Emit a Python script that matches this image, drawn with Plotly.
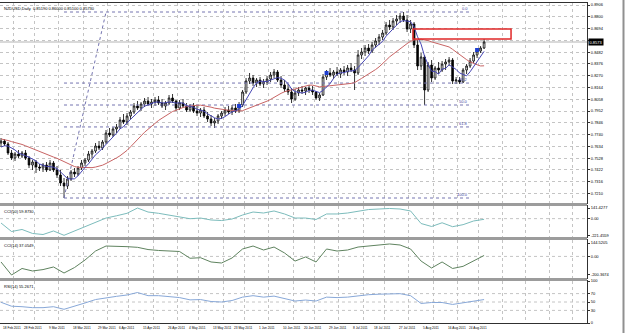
import plotly.graph_objects as go
import pandas as pd

symbol_title = "NZDUSD,Daily"

open_p = [0.7664,0.7682,0.7655,0.7574,0.7529,0.7565,0.7547,0.7574,0.7529,0.7466,
          0.7493,0.7448,0.7439,0.7466,0.7421,0.7484,0.7421,0.7376,0.7304,0.7277,
          0.7340,0.7403,0.7385,0.7439,0.7484,0.7511,0.7565,0.7592,0.7637,0.7619,
          0.7673,0.7754,0.7736,0.7790,0.7808,0.7871,0.7853,0.7907,0.7943,0.7997,
          0.7979,0.8015,0.8042,0.8015,0.8033,0.8051,0.8024,0.7997,0.8024,0.8069,
          0.8042,0.7979,0.8024,0.7997,0.7961,0.7997,0.7952,0.7934,0.7961,0.7907,
          0.7880,0.7844,0.7862,0.7907,0.7934,0.7961,0.7943,0.7979,0.7952,0.8006,
          0.8123,0.8222,0.8249,0.8204,0.8231,0.8195,0.8213,0.8240,0.8276,0.8303,
          0.8231,0.8186,0.8150,0.8123,0.8060,0.8114,0.8141,0.8132,0.8159,0.8141,
          0.8123,0.8069,0.8096,0.8258,0.8294,0.8276,0.8303,0.8285,0.8321,0.8303,
          0.8339,0.8321,0.8294,0.8456,0.8483,0.8519,0.8492,0.8546,0.8582,0.8618,
          0.8654,0.8726,0.8708,0.8762,0.8780,0.8807,0.8771,0.8690,0.8735,0.8546,
          0.8357,0.8438,0.8141,0.8366,0.8249,0.8339,0.8321,0.8375,0.8393,0.8411,
          0.8222,0.8231,0.8213,0.8321,0.8357,0.8402,0.8456,0.8492,0.8519]
high_p = [0.7709,0.7700,0.7673,0.7601,0.7583,0.7601,0.7592,0.7601,0.7547,0.7511,
          0.7511,0.7475,0.7484,0.7493,0.7511,0.7502,0.7457,0.7421,0.7349,0.7367,
          0.7421,0.7439,0.7457,0.7511,0.7529,0.7592,0.7610,0.7664,0.7682,0.7691,
          0.7781,0.7799,0.7808,0.7835,0.7898,0.7925,0.7934,0.7961,0.8024,0.8042,
          0.8033,0.8069,0.8078,0.8060,0.8078,0.8087,0.8060,0.8042,0.8096,0.8105,
          0.8051,0.8051,0.8060,0.8024,0.8015,0.8024,0.7997,0.7979,0.7988,0.7943,
          0.7916,0.7889,0.7925,0.7952,0.7988,0.7997,0.8006,0.8015,0.8033,0.8141,
          0.8249,0.8294,0.8276,0.8249,0.8258,0.8240,0.8267,0.8303,0.8330,0.8321,
          0.8267,0.8231,0.8195,0.8159,0.8150,0.8168,0.8177,0.8168,0.8186,0.8177,
          0.8132,0.8114,0.8285,0.8321,0.8339,0.8321,0.8348,0.8339,0.8357,0.8366,
          0.8384,0.8357,0.8501,0.8519,0.8546,0.8555,0.8573,0.8609,0.8645,0.8681,
          0.8753,0.8771,0.8789,0.8816,0.8834,0.8843,0.8816,0.8771,0.8753,0.8591,
          0.8474,0.8456,0.8393,0.8411,0.8357,0.8393,0.8402,0.8420,0.8438,0.8429,
          0.8258,0.8258,0.8339,0.8375,0.8429,0.8483,0.8510,0.8537,0.8600]
low_p = [0.7628,0.7637,0.7556,0.7511,0.7502,0.7529,0.7529,0.7511,0.7439,0.7421,
         0.7394,0.7412,0.7403,0.7403,0.7412,0.7403,0.7349,0.7277,0.7169,0.7250,
         0.7322,0.7358,0.7367,0.7421,0.7457,0.7493,0.7529,0.7574,0.7601,0.7601,
         0.7655,0.7718,0.7718,0.7754,0.7790,0.7835,0.7826,0.7880,0.7925,0.7961,
         0.7952,0.7988,0.7997,0.7979,0.7997,0.8006,0.7979,0.7961,0.8006,0.8024,
         0.7952,0.7961,0.7979,0.7943,0.7943,0.7934,0.7907,0.7898,0.7889,0.7853,
         0.7817,0.7799,0.7835,0.7880,0.7907,0.7925,0.7916,0.7934,0.7934,0.7988,
         0.8105,0.8195,0.8177,0.8168,0.8177,0.8159,0.8186,0.8213,0.8249,0.8213,
         0.8159,0.8123,0.8096,0.8024,0.8042,0.8087,0.8105,0.8096,0.8114,0.8096,
         0.8051,0.8042,0.8087,0.8231,0.8258,0.8240,0.8267,0.8249,0.8276,0.8267,
         0.8303,0.8141,0.8276,0.8420,0.8447,0.8465,0.8474,0.8519,0.8546,0.8591,
         0.8636,0.8681,0.8681,0.8726,0.8744,0.8753,0.8663,0.8654,0.8519,0.8321,
         0.8321,0.8006,0.8123,0.8213,0.8231,0.8285,0.8303,0.8321,0.8357,0.8195,
         0.8195,0.8195,0.8204,0.8285,0.8339,0.8384,0.8429,0.8474,0.8510]
close_p = [0.7682,0.7655,0.7574,0.7529,0.7565,0.7547,0.7574,0.7529,0.7466,0.7493,
           0.7448,0.7439,0.7466,0.7421,0.7484,0.7421,0.7376,0.7304,0.7277,0.7340,
           0.7403,0.7385,0.7439,0.7484,0.7511,0.7565,0.7592,0.7637,0.7619,0.7673,
           0.7754,0.7736,0.7790,0.7808,0.7871,0.7853,0.7907,0.7943,0.7997,0.7979,
           0.8015,0.8042,0.8015,0.8033,0.8051,0.8024,0.7997,0.8024,0.8069,0.8042,
           0.7979,0.8024,0.7997,0.7961,0.7997,0.7952,0.7934,0.7961,0.7907,0.7880,
           0.7844,0.7862,0.7907,0.7934,0.7961,0.7943,0.7979,0.7952,0.8006,0.8123,
           0.8222,0.8249,0.8204,0.8231,0.8195,0.8213,0.8240,0.8276,0.8303,0.8231,
           0.8186,0.8150,0.8123,0.8060,0.8114,0.8141,0.8132,0.8159,0.8141,0.8123,
           0.8069,0.8096,0.8258,0.8294,0.8276,0.8303,0.8285,0.8321,0.8303,0.8339,
           0.8321,0.8294,0.8456,0.8483,0.8519,0.8492,0.8546,0.8582,0.8618,0.8654,
           0.8726,0.8708,0.8762,0.8780,0.8807,0.8771,0.8690,0.8735,0.8546,0.8357,
           0.8438,0.8141,0.8366,0.8249,0.8339,0.8321,0.8375,0.8393,0.8411,0.8222,
           0.8231,0.8213,0.8321,0.8357,0.8402,0.8456,0.8492,0.8519,0.8573]
# closes of the bars just before the visible window (needed by the moving averages)
prev_close = [0.7745,0.7763,0.7727,0.7709,0.7736,0.7754,0.7772,0.7736,0.7718,0.7700,
              0.7727,0.7709,0.7691,0.7718,0.7664,0.7601,0.7583,0.7610,0.7664]

first_date = "2011-02-18"
date_labels = ["18 Feb 2011","28 Feb 2011","9 Mar 2011","18 Mar 2011","29 Mar 2011",
               "6 Apr 2011","15 Apr 2011","26 Apr 2011","4 May 2011","13 May 2011",
               "23 May 2011","1 Jun 2011","10 Jun 2011","20 Jun 2011","29 Jun 2011",
               "8 Jul 2011","18 Jul 2011","27 Jul 2011","5 Aug 2011","16 Aug 2011",
               "24 Aug 2011"]
price_ticks = [0.8906,0.8800,0.8694,0.8588,0.8482,0.8376,0.8270,0.8164,0.8058,
               0.7952,0.7846,0.7740,0.7634,0.7528,0.7422,0.7316,0.7210]

fib_levels = [0.0, 38.2, 50.0, 61.8, 100.0]
fib_high, fib_low = 0.8843, 0.7169
fib_start_bar, fib_end_bar, fib_high_bar = 18, 134, 30

zone_bottom, zone_top = 0.8600, 0.8690
zone_start_bar, zone_end_bar = 117.7, 145.7

signal_bars = [68, 93, 136]
signal_prices = [0.7997, 0.8294, 0.8501]

ind_bars = list(range(0, 139, 3))
cci50 = [-58,-171,-144,-197,-211,-164,-221.46,-164,-104,-45,8,38,71,141.43,88,71,48,22,-1,8,
         -18,-25,-5,48,88,75,102,62,8,8,-11,62,62,75,102,121,128,135,128,102,
         -65,-104,-55,-107,-80,-31,-9]
cci14 = [-60,-200.37,-130,-157,-142,-114,-179,-120,-39,58,112,112,105,98,74,64,61,53,-20,-14,
         -60,-71,-17,80,112,69,101,37,-50,-6,-60,80,58,69,101,112,123,134,123,80,
         -50,-125,-60,-130,-107,-44,10]
rsi14 = [49.3,40.0,38.8,36.5,36.5,38.8,32.6,39.5,47.7,55.8,60.5,63.5,66.7,72.6,65.1,65.1,62.8,60.5,55.1,55.8,
         51.2,50.0,53.5,61.6,65.1,61.6,64.0,58.1,52.3,54.7,52.3,61.6,60.5,61.6,65.1,67.4,68.6,69.8,69.8,65.1,
         46.5,48.8,48.8,44.2,47.7,51.9,55.8]

# ---------------------------------------------------------------- derived
n = len(close_p)
bars = list(range(n))
dates = pd.bdate_range(first_date, periods=n)
label_pos = [dates.get_loc(pd.to_datetime(s, format="%d %b %Y")) for s in date_labels]

full = pd.Series(prev_close + close_p)
ma_fast = full.rolling(5).mean().iloc[len(prev_close):].tolist()
ma_slow = full.rolling(20).mean().iloc[len(prev_close):].tolist()

# ---------------------------------------------------------------- layout helpers
W, H = 625, 333
ML, MR, MT, MB = 0, 38, 3, 10
PH = H - MT - MB

def ydom(top_px, bot_px):
    return [(H - MB - bot_px) / PH, (H - MB - top_px) / PH]

def ypap(px):
    return (H - MB - px) / PH

XR = [-0.29, 167.4]
grid_x = [p + 3.5 for p in label_pos]
while grid_x[-1] + 6.7 < XR[1]:
    grid_x.append(grid_x[-1] + 6.7)

FONT = "Liberation Sans"
GRID = "#c4c4c4"
FIBC = "#7474b0"

# the tick label hidden behind the current-price box is left blank
cur = close_p[-1]
price_ticktext = ["" if abs(v - cur) < 0.0030 else f"{v:.4f}" for v in price_ticks]

fig = go.Figure()

fig.add_trace(go.Candlestick(
    x=bars, open=open_p, high=high_p, low=low_p, close=close_p,
    increasing=dict(line=dict(color="black", width=0.8), fillcolor="white"),
    decreasing=dict(line=dict(color="black", width=0.8), fillcolor="black"),
    whiskerwidth=0, showlegend=False, hoverinfo="skip", xaxis="x", yaxis="y"))

# fibonacci
fib_prices = [fib_high - lv / 100.0 * (fib_high - fib_low) for lv in fib_levels]
for lv, fp in zip(fib_levels, fib_prices):
    fig.add_trace(go.Scatter(x=[fib_start_bar, fib_end_bar], y=[fp, fp], mode="lines",
                             line=dict(color=FIBC, width=1, dash="dot"),
                             showlegend=False, hoverinfo="skip"))
    fig.add_annotation(x=fib_end_bar, y=fp, xref="x", yref="y", text=f"{lv:.1f}",
                       showarrow=False, xanchor="right", yanchor="bottom",
                       font=dict(family=FONT, size=4, color="#4040a0"), yshift=-1)
fig.add_trace(go.Scatter(x=[fib_start_bar, fib_high_bar], y=[fib_low, fib_high], mode="lines",
                         line=dict(color=FIBC, width=1, dash="dot"),
                         showlegend=False, hoverinfo="skip"))

fig.add_trace(go.Scatter(x=bars, y=ma_slow, mode="lines", line=dict(color="#c86464", width=1),
                         showlegend=False, hoverinfo="skip"))
fig.add_trace(go.Scatter(x=bars, y=ma_fast, mode="lines", line=dict(color="#4646b4", width=1),
                         showlegend=False, hoverinfo="skip"))
fig.add_trace(go.Scatter(x=signal_bars, y=signal_prices, mode="markers",
                         marker=dict(symbol="square", size=4, color="#1f3fd0"),
                         showlegend=False, hoverinfo="skip"))

# indicators
fig.add_trace(go.Scatter(x=ind_bars, y=cci50, mode="lines", line=dict(color="#7cbcbc", width=1),
                         xaxis="x2", yaxis="y2", showlegend=False, hoverinfo="skip"))
fig.add_trace(go.Scatter(x=ind_bars, y=cci14, mode="lines", line=dict(color="#5f835f", width=1),
                         xaxis="x3", yaxis="y3", showlegend=False, hoverinfo="skip"))
fig.add_trace(go.Scatter(x=ind_bars, y=rsi14, mode="lines", line=dict(color="#88a8d8", width=1),
                         xaxis="x4", yaxis="y4", showlegend=False, hoverinfo="skip"))

xcommon = dict(range=XR, tickvals=grid_x, showticklabels=False, showgrid=True,
               gridcolor=GRID, griddash="dot", gridwidth=1, zeroline=False,
               showline=True, mirror=True, linecolor="#303030", linewidth=1, ticks="")
ycommon = dict(side="right", showline=True, mirror=True, linecolor="#303030", linewidth=1,
               zeroline=False, ticks="outside", ticklen=2, tickcolor="#303030",
               tickfont=dict(family=FONT, size=4, color="black"))

fig.update_layout(
    width=W, height=H, margin=dict(l=ML, r=MR, t=MT, b=MB),
    paper_bgcolor="white", plot_bgcolor="white", hovermode=False,
    xaxis=dict(**xcommon, anchor="y", rangeslider=dict(visible=False)),
    xaxis2=dict(**xcommon, anchor="y2", matches="x"),
    xaxis3=dict(**xcommon, anchor="y3", matches="x"),
    xaxis4=dict(**xcommon, anchor="y4", matches="x"),
    yaxis=dict(**ycommon, anchor="x", domain=ydom(3, 203), range=[0.7124, 0.8924],
               tickvals=price_ticks, ticktext=price_ticktext,
               showgrid=True, gridcolor=GRID, griddash="dot", gridwidth=1),
    yaxis2=dict(**ycommon, anchor="x2", domain=ydom(206, 237), range=[-244, 168],
                tickvals=[141.4277, 0, -221.4559], ticktext=["141.4277", "0.00", "-221.4559"],
                showgrid=False),
    yaxis3=dict(**ycommon, anchor="x3", domain=ydom(240, 278), range=[-232.8, 176.9],
                tickvals=[144.5205, 0, -200.3674], ticktext=["144.5205", "0.00", "-200.3674"],
                showgrid=False),
    yaxis4=dict(**ycommon, anchor="x4", domain=ydom(281, 323), range=[0, 100],
                tickvals=[100, 70, 50, 30, 0], ticktext=["100", "70", "50", "30", "0"],
                showgrid=False),
)

shapes = []
for yref, val in [("y2", 0), ("y3", 0), ("y4", 70), ("y4", 50), ("y4", 30)]:
    shapes.append(dict(type="line", xref="paper", x0=0, x1=1, yref=yref, y0=val, y1=val,
                       line=dict(color=GRID, width=1, dash="dot"), layer="below"))
shapes.append(dict(type="line", xref="paper", x0=0, x1=1, yref="y", y0=cur, y1=cur,
                   line=dict(color="#b4b4b4", width=1), layer="below"))
shapes.append(dict(type="rect", xref="x", yref="y", x0=zone_start_bar, x1=zone_end_bar,
                   y0=zone_bottom, y1=zone_top, line=dict(color="#e02828", width=1.5),
                   fillcolor="rgba(0,0,0,0)", layer="above"))
for top_px, bot_px in [(203, 206), (237, 240), (278, 281)]:
    shapes.append(dict(type="rect", xref="paper", x0=0, x1=1, yref="paper",
                       y0=ypap(bot_px), y1=ypap(top_px), fillcolor="#9c9c9c",
                       line=dict(width=0), layer="above"))
shapes.append(dict(type="line", xref="paper", x0=(W - 1.5 - ML) / (W - ML - MR),
                   x1=(W - 1.5 - ML) / (W - ML - MR), yref="paper", y0=-MB / PH, y1=1 + MT / PH,
                   line=dict(color="#909090", width=2)))
fig.update_layout(shapes=shapes)

small = dict(family=FONT, size=4, color="black")
fig.add_annotation(xref="paper", yref="paper", x=0.004, y=ypap(4), xanchor="left", yanchor="top",
                   showarrow=False, font=small,
                   text=f"{symbol_title}  {open_p[-1]:.5f} {high_p[-1]:.5f} {low_p[-1]:.5f} {cur:.5f}")
for top_px, txt in [(207, "CCI(50) 59.8730"), (241, "CCI(14) 37.0549"), (281.5, "RSI(14) 55.2671")]:
    fig.add_annotation(xref="paper", yref="paper", x=0.004, y=ypap(top_px), xanchor="left",
                       yanchor="top", showarrow=False, font=small, text=txt)
fig.add_annotation(xref="paper", yref="y", x=1.0, y=cur, xanchor="left", yanchor="middle",
                   showarrow=False, text=f"{cur:.4f}", bgcolor="black", xshift=1,
                   font=dict(family=FONT, size=4, color="white"), borderpad=0.5)
for pos, txt in zip(label_pos, date_labels):
    fig.add_annotation(xref="x4", yref="paper", x=pos, y=-5 / PH, xanchor="left", yanchor="middle",
                       showarrow=False, text=txt, font=dict(family=FONT, size=3.2, color="black"))

fig.write_html("out.html")
